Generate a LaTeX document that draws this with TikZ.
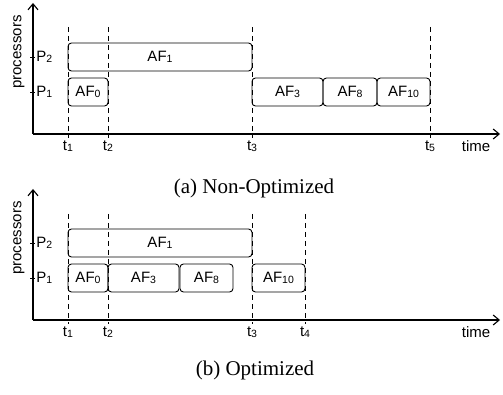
\documentclass[tikz,border=0pt]{standalone}
\usepackage{fontspec}
\setmainfont{Liberation Serif}
\setsansfont{Liberation Sans}
\usepackage{tikz}
\usetikzlibrary{positioning}
\usetikzlibrary{arrows.meta}
\newcommand{\idx}[1]{\raisebox{-1.5pt}{\fontsize{10.5}{11}\selectfont #1}}

\begin{document}
\begin{tikzpicture} [x = 1pt, y = -1pt, line width = 0.9pt, font = \sffamily\fontsize{15}{17}\selectfont, job/.style = {draw, rounded corners = 3.5pt, minimum height = 28pt, inner sep = 0pt}, axis/.style = {->, > = {Straight Barb[length = 6pt, width = 10pt]}, line width = 1.1pt}, guide/.style = {dash pattern = on 5pt off 4pt}, caption/.style = {font = \rmfamily\fontsize{21}{24}\selectfont}]
			\useasboundingbox (0,0) rectangle (503,395);
			% (a) and (b) share the same axes, one below the other
			\foreach \p/\dy in {a/0, b/186} {
				\begin{scope}[yshift = -\dy pt]
					\coordinate (\p-o) at (33,134);
					\coordinate (\p-top) at (33,3);
					\coordinate (\p-end) at (500,134);
					\draw[axis] (\p-o) -- (\p-top);
					\draw[axis] (\p-o) -- (\p-end);
					\node[rotate = 90] (\p-proc) at (19,52) {processors};
					\foreach \i\y in {1/92, 2/57} {
						\draw (30,\y) -- (35,\y);
						\node[anchor = west, inner sep = 1pt] (\p-P\i) at (35,\y) {P\idx{\i}};
					}
					\node (\p-time) at (476,146) {time};
				\end{scope}
			}
			% (a) Non-Optimized
			\foreach \i\x in {1/68, 2/108, 3/252, 5/430} {
					\draw[guide] (\x,27) -- (\x,138);
					\node[below = 0pt, inner sep = 1pt] (a-t\i) at (\x,139) {t\idx{\i}};
				}
			\foreach \n\l\r\y in {1/68/252/57, 0/68/108/92, 3/252/323/92, 8/323/377/92, 10/377/430/92} {
					\node[job, minimum width = {(\r-\l)*1pt}] (a-AF\n) at ({(\l+\r)/2},\y) {AF\idx{\n}};
				}
			\node[caption] (a-cap) at (254,188) {(a) Non-Optimized};
			% (b) Optimized
			\foreach \i\x in {1/68, 2/108, 3/252, 4/305} {
					\draw[guide] (\x,214) -- (\x,324);
					\node[below = 0pt, inner sep = 1pt] (b-t\i) at (\x,325) {t\idx{\i}};
				}
			\foreach \n\l\r\y in {1/68/252/243, 0/68/108/278, 3/108/179/278, 8/180/233/278, 10/252/305/278} {
					\node[job, minimum width = {(\r-\l)*1pt}] (b-AF\n) at ({(\l+\r)/2},\y) {AF\idx{\n}};
				}
			\node[caption] (b-cap) at (255,370) {(b) Optimized};
		\end{tikzpicture}
\end{document}
